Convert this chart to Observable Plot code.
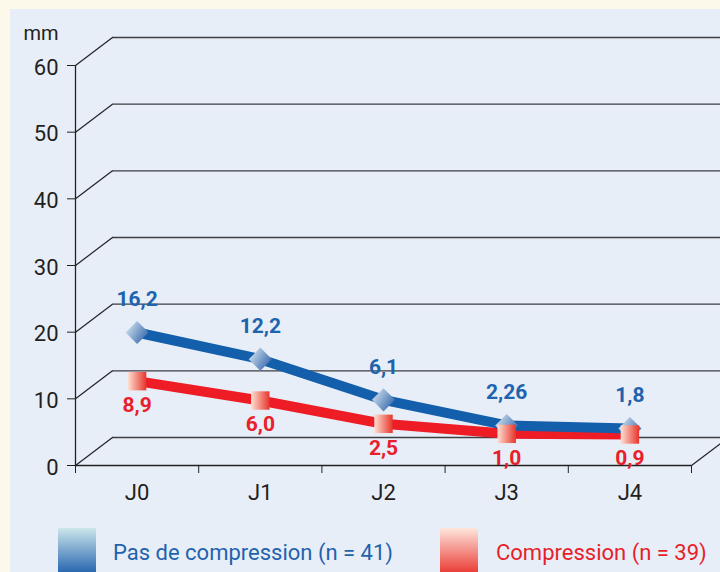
<!DOCTYPE html>
<html>
<head>
<meta charset="utf-8">
<script src="https://cdn.jsdelivr.net/npm/d3@7"></script>
<script src="https://cdn.jsdelivr.net/npm/@observablehq/plot@0.6"></script>
<style>
  html, body { margin: 0; padding: 0; }
  body { width: 720px; height: 572px; background: #fcf9ea; overflow: hidden; position: relative; font-family: Roboto, "Noto Sans", sans-serif; }
  #panel { position: absolute; left: 10px; top: 9px; width: 710px; height: 563px; background: #e8eef8; overflow: hidden; }
  #chart { position: absolute; left: 0; top: 0; }
  .sw { position: absolute; width: 38px; height: 48px; top: 519px; }
  .lt { position: absolute; top: 530px; font-size: 22px; line-height: 28px; white-space: nowrap; }
</style>
</head>
<body>
<div id="panel">
  <div id="chart"></div>
  <div class="sw" style="left:48px;background:linear-gradient(#cce6ea,#1c5dac);"></div>
  <div class="lt" id="lt1" style="left:103px;color:#1f62ad;"></div>
  <div class="sw" style="left:430px;background:linear-gradient(#fde6dc,#e8302a);"></div>
  <div class="lt" id="lt2" style="left:486px;color:#e61f2a;"></div>
</div>
<script>
// ---- data ----
const categories = ["J0", "J1", "J2", "J3", "J4"];
const pasCompression = [16.2, 12.2, 6.1, 2.26, 1.8];
const compression = [8.9, 6.0, 2.5, 1.0, 0.9];
const pasLabels = ["16,2", "12,2", "6,1", "2,26", "1,8"];
const compLabels = ["8,9", "6,0", "2,5", "1,0", "0,9"];
const yTicks = [0, 10, 20, 30, 40, 50, 60];
const seriesNames = ["Pas de compression (n = 41)", "Compression (n = 39)"];
const unitLabel = "mm";

document.getElementById("lt1").textContent = seriesNames[0];
document.getElementById("lt2").textContent = seriesNames[1];

const blueData = categories.map((c, i) => ({i, c, v: pasCompression[i], t: pasLabels[i]}));
const redData = categories.map((c, i) => ({i, c, v: compression[i], t: compLabels[i]}));
const bounds = d3.range(categories.length + 1).map(k => k - 0.5);
const catIdx = d3.range(categories.length);

// perspective depth (in data units for links; in px for back rules)
const DX_U = 0.3, DY_U = 4.2;
const gridColor = "#3d3d42";
const POINT_DY = -25;
const axisFont = 22;

const plot = Plot.plot({
  width: 710,
  height: 505,
  marginLeft: 65,
  marginRight: 29,
  marginTop: 56,
  marginBottom: 49,
  style: {background: "transparent", fontFamily: "Roboto, 'Noto Sans', sans-serif", color: "#231f20"},
  x: {type: "linear", domain: [-0.5, categories.length - 0.5]},
  y: {domain: [0, 60]},
  marks: [
    // back gridlines
    Plot.ruleY(yTicks, {dx: 37, dy: -28, stroke: gridColor, strokeWidth: 1.3}),
    // diagonals from the front axis
    Plot.link(yTicks, {x1: () => -0.5, y1: d => d, x2: () => -0.5 + DX_U, y2: d => d + DY_U, stroke: "#222", strokeWidth: 1.2}),
    Plot.link([0], {x1: () => categories.length - 0.5, y1: 0, x2: () => categories.length - 0.5 + DX_U, y2: DY_U, stroke: "#222", strokeWidth: 1.2}),
    // front axes
    Plot.ruleY([0], {stroke: "#222", strokeWidth: 1.3}),
    Plot.ruleX([-0.5], {y1: 0, y2: 60, stroke: "#222", strokeWidth: 1.3}),
    Plot.axisY({ticks: yTicks, tickSize: 8, tickFormat: () => "", label: null, stroke: "#222"}),
    Plot.text(yTicks, {x: () => -0.5, y: d => d, text: d => String(d), dx: -17, dy: 2, textAnchor: "end", fontSize: axisFont, fill: "#231f20"}),
    Plot.axisX({ticks: bounds, tickSize: 8, tickFormat: () => "", label: null, stroke: "#222"}),
    Plot.text(catIdx, {x: d => d, y: () => 0, text: d => categories[d], dy: 27, fontSize: axisFont, fill: "#231f20"}),
    Plot.text([unitLabel], {x: () => -0.5, y: () => 60, dx: -17, dy: -32, textAnchor: "end", fontSize: 20, fill: "#231f20"}),
    // series lines
    Plot.line(redData, {x: "i", y: "v", dy: POINT_DY, stroke: "#ee1c25", strokeWidth: 10, strokeLinejoin: "round"}),
    Plot.line(blueData, {x: "i", y: "v", dy: POINT_DY, stroke: "#145fab", strokeWidth: 10, strokeLinejoin: "round"}),
    Plot.dot(blueData, {x: "i", y: "v", dy: POINT_DY, symbol: "diamond2", r: 10.4, fill: "url(#gBlue)", stroke: "none"}),
    Plot.dot(redData, {x: "i", y: "v", dy: POINT_DY, symbol: "square", r: 10.4, fill: "url(#gRed)", stroke: "none"}),
    // value labels
    Plot.text(blueData, {x: "i", y: "v", text: "t", dy: POINT_DY - 33, fill: "#1d63ad", fontSize: 21, fontWeight: 700}),
    Plot.text(redData, {x: "i", y: "v", text: "t", dy: POINT_DY + 24, fill: "#e8202b", fontSize: 21, fontWeight: 700})
  ]
});

const defs = d3.select(plot).insert("defs", ":first-child");
const gb = defs.append("linearGradient").attr("id", "gBlue").attr("x1", 0).attr("y1", 0.2).attr("x2", 1).attr("y2", 0.8);
gb.append("stop").attr("offset", "0%").attr("stop-color", "#d6e6ef");
gb.append("stop").attr("offset", "100%").attr("stop-color", "#2c60a9");
const gr = defs.append("linearGradient").attr("id", "gRed").attr("x1", 0).attr("y1", 0).attr("x2", 1).attr("y2", 0);
gr.append("stop").attr("offset", "0%").attr("stop-color", "#fde0d2");
gr.append("stop").attr("offset", "100%").attr("stop-color", "#e8342c");

document.getElementById("chart").appendChild(plot);
</script>
</body>
</html>
